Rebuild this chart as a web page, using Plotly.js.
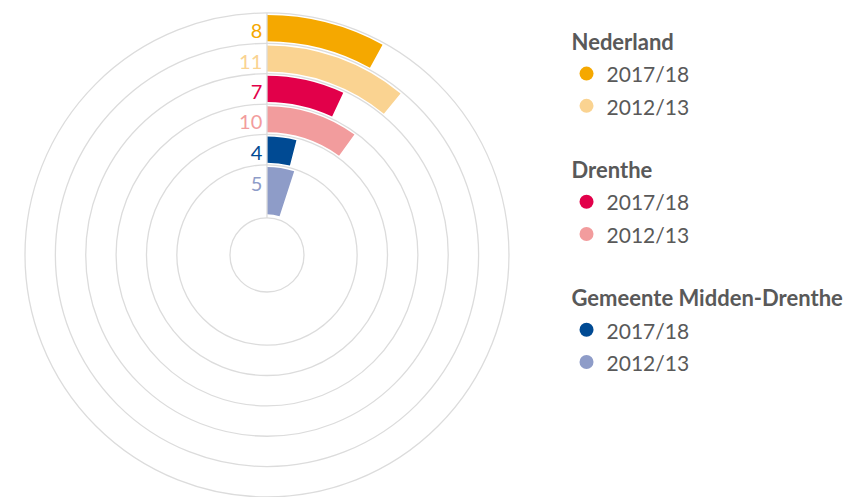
<!DOCTYPE html>
<html>
<head>
<meta charset="utf-8">
<script src="https://cdn.plot.ly/plotly-3.0.1.min.js"></script>
<style>html,body{margin:0;padding:0;background:#fff;}#chart{width:850px;height:497px;}</style>
</head>
<body>
<div id="chart"></div>
<script>
// ---- data ----
const regions = ['Nederland', 'Drenthe', 'Gemeente Midden-Drenthe'];
const years = ['2017/18', '2012/13'];
const values201718 = [8, 7, 4];     // percent
const values201213 = [11, 10, 5];   // percent

// ---- styles ----
const colors201718 = ['#F5A800', '#E2004A', '#004A93'];
const colors201213 = ['#FAD391', '#F29C9D', '#8E9CC8'];
const gridColor = '#DCDCDC';
const textColor = '#595959';
const font = 'Lato, "Open Sans", sans-serif';

// radial bands (outer -> inner), in radial-axis units
const bandEdges = [0, 1.75, 2.75, 3.75, 4.75, 5.75, 6.75];
const inset = 0.07;

const series = [];
regions.forEach((reg, i) => {
  series.push({region: reg, year: years[0], value: values201718[i], color: colors201718[i]});
  series.push({region: reg, year: years[1], value: values201213[i], color: colors201213[i]});
});
const nBands = series.length;

const traces = [];
series.forEach((s, k) => {
  const bandIdx = nBands - 1 - k; // 0 = innermost
  const lo = bandEdges[bandIdx], hi = bandEdges[bandIdx + 1];
  const base = lo + (bandIdx === 0 ? 0.12 : inset);
  const top = hi - inset;
  traces.push({
    type: 'barpolar',
    r: [top - base],
    base: [base],
    theta: [s.value * 3.6 / 2],
    width: [s.value * 3.6],
    marker: {color: s.color, line: {width: 0}},
    showlegend: false,
    hoverinfo: 'skip'
  });
  // value label
  traces.push({
    type: 'scatterpolar',
    mode: 'markers+text',
    r: [(lo + hi) / 2 - 0.17 + (bandIdx === 0 ? 0.35 : 0)],
    theta: [0],
    text: [String(s.value)],
    textposition: 'middle left',
    textfont: {family: font, size: 20, color: s.color},
    marker: {size: 6, opacity: 0},
    showlegend: false,
    hoverinfo: 'skip',
    cliponaxis: false
  });
});
// legend entries (no visible marks)
series.forEach((s) => {
  traces.push({
    type: 'scatterpolar',
    mode: 'markers',
    r: [null], theta: [null],
    name: '<span style="font-size:21px">' + s.year + '</span>',
    legendgroup: s.region,
    legendgrouptitle: {text: s.region, font: {family: font, size: 22, color: textColor, weight: 'bold'}},
    marker: {size: 14, color: s.color},
    hoverinfo: 'skip'
  });
});

const layout = {
  width: 850, height: 497,
  margin: {l: 0, r: 0, t: 0, b: 0, autoexpand: false},
  paper_bgcolor: '#fff',
  plot_bgcolor: '#fff',
  showlegend: true,
  legend: {
    x: 0.6665, y: 0.958, xanchor: 'left', yanchor: 'top',
    font: {family: font, size: 22.5, color: textColor},
    traceorder: 'grouped',
    tracegroupgap: 32,
    itemclick: false, itemdoubleclick: false
  },
  polar: {
    domain: {x: [0.0294, 0.5988], y: [0, 0.974]},
    hole: 0.153,
    bgcolor: 'rgba(0,0,0,0)',
    radialaxis: {
      range: [0, 6.75],
      tickvals: bandEdges,
      showticklabels: false,
      ticks: '',
      gridcolor: gridColor,
      gridwidth: 1.3,
      showline: true,
      linecolor: gridColor,
      linewidth: 1.3,
      angle: 90
    },
    angularaxis: {
      rotation: 90,
      direction: 'clockwise',
      showgrid: false,
      showticklabels: false,
      ticks: '',
      showline: true,
      linecolor: gridColor,
      linewidth: 1.3
    }
  }
};

Plotly.newPlot('chart', traces, layout, {staticPlot: true});
</script>
</body>
</html>
